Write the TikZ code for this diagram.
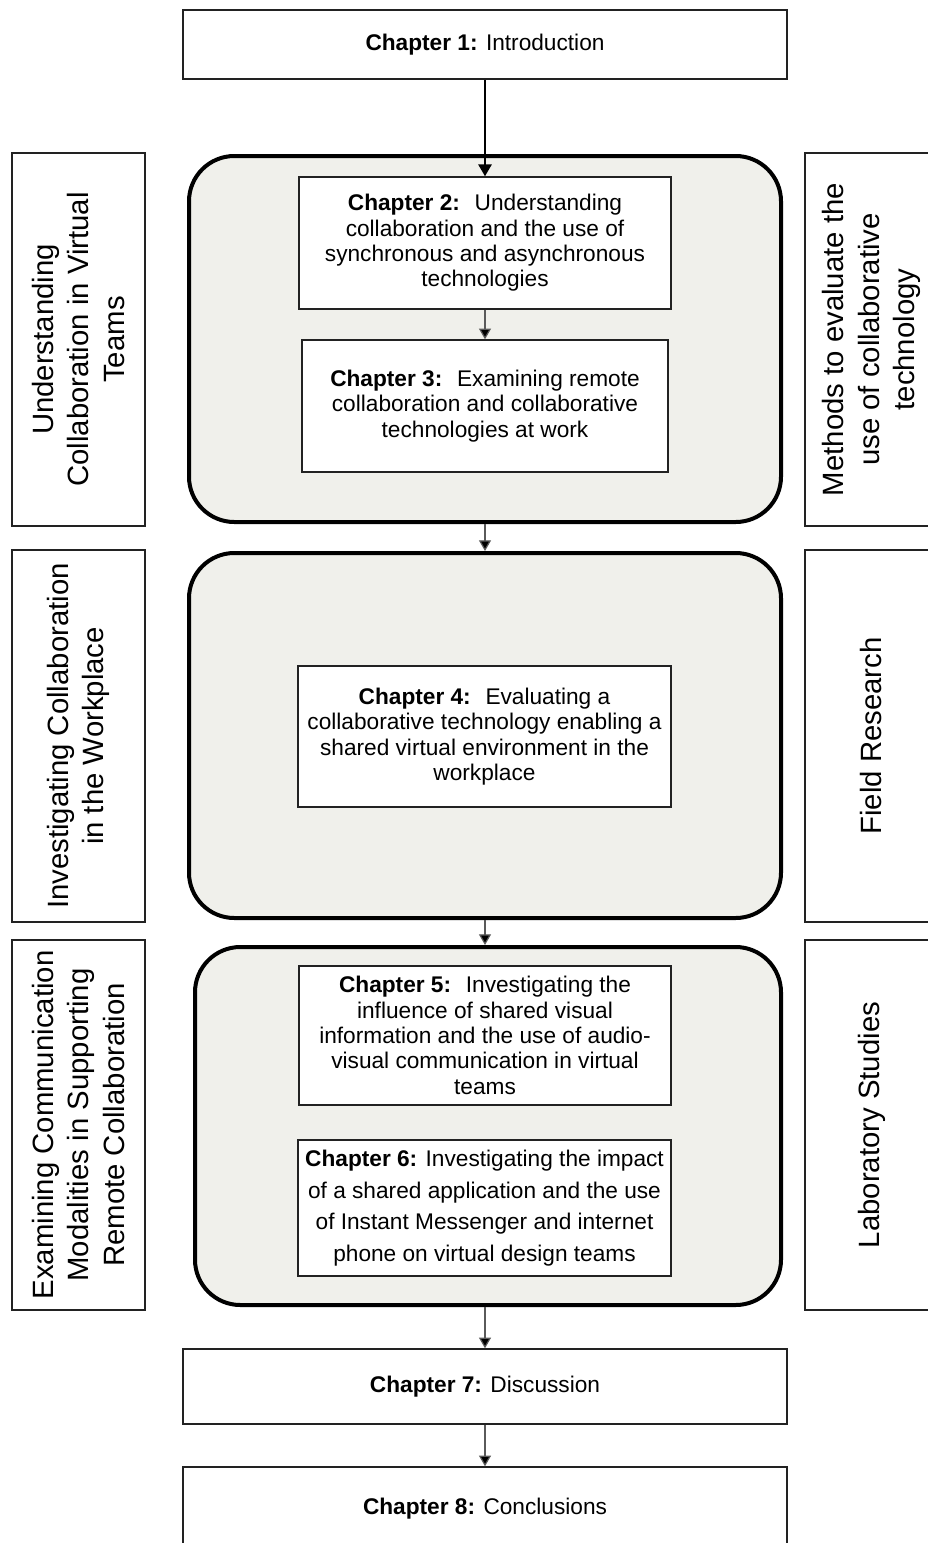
\documentclass[tikz,border=0pt]{standalone}
\usepackage{fontspec}
\setmainfont{Liberation Sans}
\usetikzlibrary{arrows.meta}
\definecolor{groupfill}{RGB}{240,240,235}
\definecolor{boxline}{RGB}{34,34,34}
\definecolor{thinline}{RGB}{90,90,90}
\begin{document}
\begin{tikzpicture}[x=0.75pt,y=-0.75pt,
  chapbox/.style={draw=boxline, line width=1.1pt, fill=white, align=center, inner sep=0pt,
     font=\fontsize{17}{19}\selectfont},
  groupbox/.style={draw=black, line width=3pt, fill=groupfill, rounded corners=34pt, inner sep=0pt},
  sidebox/.style={draw=boxline, line width=1.1pt, fill=white, align=center, inner sep=0pt, rotate=90,
     font=\fontsize{22}{26.6}\selectfont},
  thinarrow/.style={draw=thinline, line width=0.9pt, -{Triangle[width=9pt,length=8pt,fill=black]}},
  thickarrow/.style={draw=black, line width=1.6pt, -{Triangle[width=10pt,length=9pt]}}
]
\useasboundingbox (0,0) rectangle (928,1543);

% side boxes
\node[sidebox, minimum width=279.75pt, minimum height=99.75pt] (l1) at (78.5,339.5)
  {Understanding\\Collaboration in Virtual\\Teams};
\node[sidebox, minimum width=279pt, minimum height=99.75pt] (l2) at (78.5,736)
  {Investigating Collaboration\\in the Workplace};
\node[sidebox, minimum width=277.5pt, minimum height=99.75pt] (l3) at (78.5,1125)
  {Examining Communication\\Modalities in Supporting\\Remote Collaboration};
\node[sidebox, minimum width=279.75pt, minimum height=99.75pt] (r1) at (871.5,339.5)
  {Methods to evaluate the\\use of collaborative\\technology};
\node[sidebox, minimum width=279pt, minimum height=99.75pt] (r2) at (871.5,736)
  {Field Research};
\node[sidebox, minimum width=277.5pt, minimum height=99.75pt] (r3) at (871.5,1125)
  {Laboratory Studies};

% groups
\node[groupbox, minimum width=444pt, minimum height=274.5pt] (g1) at (485,339) {};
\node[groupbox, minimum width=444pt, minimum height=273.75pt] (g2) at (485,735.5) {};
\node[groupbox, minimum width=439.5pt, minimum height=268.5pt] (g3) at (488,1126) {};

% chapters
\node[chapbox, minimum width=453pt, minimum height=51.75pt] (c1) at (485,44.5)
  {\textbf{Chapter 1:} Introduction};
\node[chapbox, minimum width=279pt, minimum height=99pt] (c2) at (485,243)
  {\textbf{Chapter 2:}~ Understanding\\collaboration and the use of\\synchronous and asynchronous\\technologies};
\node[chapbox, minimum width=274.5pt, minimum height=99pt] (c3) at (485,406)
  {\textbf{Chapter 3:}~ Examining remote\\collaboration and collaborative\\technologies at work};
\node[chapbox, minimum width=279.75pt, minimum height=105.75pt] (c4) at (484.5,736.5)
  {\textbf{Chapter 4:}~ Evaluating a\\collaborative technology enabling a\\shared virtual environment in the\\workplace};
\node[chapbox, minimum width=279pt, minimum height=104.25pt] (c5) at (485,1035.5)
  {\textbf{Chapter 5:}~ Investigating the\\influence of shared visual\\information and the use of audio-\\visual communication in virtual\\teams};
\node[chapbox, minimum width=279.75pt, minimum height=102pt, font=\fontsize{17}{23.8}\selectfont] (c6) at (484.5,1208)
  {\textbf{Chapter 6:} Investigating the impact\\of a shared application and the use\\of Instant Messenger and internet\\phone on virtual design teams};
\node[chapbox, minimum width=453pt, minimum height=56.25pt] (c7) at (485,1386.5)
  {\textbf{Chapter 7:} Discussion};
\node[chapbox, minimum width=453pt, minimum height=62.25pt] (c8) at (485,1508.5)
  {\textbf{Chapter 8:} Conclusions};

% connectors
\draw[thickarrow] (c1.south) -- (c2.north);
\draw[thinarrow] (c2.south) -- (c3.north);
\draw[thinarrow] (g1.south) -- (g2.north);
\draw[thinarrow] (g2.south) -- (g3.north -| g2.south);
\draw[thinarrow] (g3.south -| g2.south) -- (c7.north);
\draw[thinarrow] (c7.south) -- (c8.north);
\end{tikzpicture}
\end{document}
